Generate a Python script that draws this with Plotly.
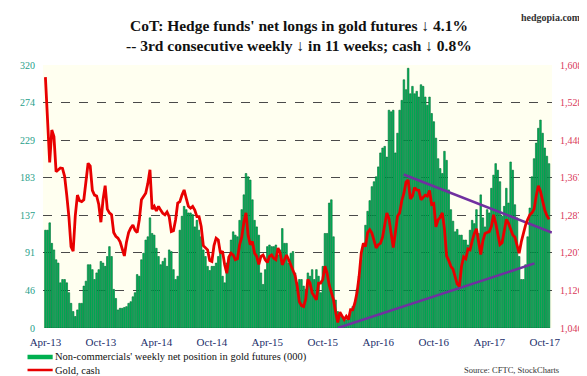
import plotly.graph_objects as go
import pandas as pd

# ---------------- data ----------------
start_date = "2013-04-02"  # weekly CoT Tuesdays

net_longs = [
    119, 119, 128, 103, 95, 83, 79, 55, 59, 59,
    55, 43, 30, 20, 14, 22, 30, 30, 51, 57,
    77, 77, 71, 59, 67, 71, 81, 79, 75, 87,
    99, 87, 47, 36, 22, 24, 24, 25, 26, 30,
    32, 38, 43, 65, 63, 83, 91, 107, 111, 134,
    115, 113, 97, 87, 77, 81, 85, 75, 95, 93,
    71, 59, 63, 119, 136, 148, 144, 140, 140, 138,
    123, 131, 119, 111, 95, 87, 75, 70, 75, 75,
    79, 87, 91, 63, 55, 79, 87, 107, 117, 113,
    111, 131, 144, 162, 188, 184, 180, 156, 131, 123,
    113, 67, 53, 71, 99, 101, 99, 99, 101, 89,
    95, 121, 103, 103, 79, 91, 93, 67, 55, 59,
    59, 51, 47, 67, 63, 71, 59, 71, 63, 43,
    75, 115, 115, 152, 156, 111, 34, 20, 14, 14,
    10, 10, 14, 20, 26, 30, 47, 63, 83, 100,
    125, 142, 155, 172, 178, 184, 196, 213, 219, 221,
    208, 265, 263, 265, 213, 237, 265, 277, 302, 290,
    316, 285, 294, 285, 288, 281, 296, 294, 281, 271,
    281, 261, 251, 231, 206, 194, 188, 215, 204, 168,
    144, 130, 117, 120, 113, 113, 107, 107, 101, 119,
    131, 127, 144, 115, 162, 134, 123, 144, 140, 170,
    186, 200, 192, 178, 136, 148, 170, 152, 202, 192,
    150, 134, 87, 59, 59, 77, 111, 146, 184, 206,
    225, 243, 253, 237, 219, 209, 200,
]

gold_cash = [
    1582, 1490, 1400, 1469, 1455, 1380, 1385, 1388, 1387, 1370,
    1330, 1284, 1220, 1210, 1286, 1330, 1318, 1316, 1320, 1365,
    1398, 1392, 1340, 1330, 1328, 1310, 1272, 1320, 1350, 1300,
    1292, 1288, 1250, 1242, 1238, 1230, 1215, 1200, 1230, 1250,
    1260, 1266, 1255, 1250, 1277, 1320, 1327, 1334, 1355, 1384,
    1300, 1306, 1296, 1306, 1298, 1291, 1288, 1294, 1284, 1252,
    1254, 1277, 1313, 1316, 1330, 1341, 1323, 1306, 1302, 1306,
    1298, 1284, 1284, 1263, 1222, 1217, 1213, 1190, 1188, 1222,
    1238, 1234, 1206, 1210, 1181, 1163, 1198, 1206, 1202, 1192,
    1194, 1224, 1240, 1272, 1292, 1244, 1224, 1231, 1206, 1199,
    1182, 1199, 1202, 1192, 1186, 1199, 1202, 1195, 1192, 1217,
    1206, 1181, 1192, 1202, 1192, 1180, 1168, 1158, 1135, 1102,
    1094, 1092, 1108, 1150, 1142, 1121, 1114, 1106, 1142, 1142,
    1150, 1178, 1163, 1138, 1122, 1106, 1080, 1058, 1080, 1071,
    1064, 1071, 1064, 1085, 1085, 1099, 1121, 1156, 1206, 1227,
    1220, 1250, 1256, 1249, 1230, 1217, 1224, 1227, 1240, 1270,
    1292, 1280, 1250, 1218, 1250, 1285, 1292, 1318, 1334, 1358,
    1362, 1322, 1328, 1346, 1341, 1340, 1320, 1324, 1330, 1328,
    1340, 1310, 1312, 1262, 1277, 1282, 1292, 1258, 1200, 1190,
    1178, 1172, 1158, 1140, 1135, 1178, 1198, 1194, 1215, 1213,
    1232, 1248, 1258, 1228, 1203, 1232, 1248, 1250, 1252, 1263,
    1288, 1270, 1244, 1224, 1228, 1256, 1278, 1270, 1256, 1245,
    1240, 1224, 1206, 1230, 1250, 1266, 1278, 1288, 1292, 1300,
    1328, 1350, 1338, 1318, 1298, 1286, 1278,
]

x_tick_labels = ["Apr-13", "Oct-13", "Apr-14", "Oct-14", "Apr-15",
                 "Oct-15", "Apr-16", "Oct-16", "Apr-17", "Oct-17"]
left_tick_vals = [0, 45.71, 91.43, 137.14, 182.86, 228.57, 274.29, 320]
left_tick_labels = ["0", "46", "91", "137", "183", "229", "274", "320"]
right_tick_vals = [1046, 1126.3, 1206.6, 1286.9, 1367.1, 1447.4, 1527.7, 1608]
right_tick_labels = ["1,046", "1,126", "1,207", "1,287", "1,367", "1,448", "1,528", "1,608"]

# trendlines on the gold axis (week offsets from start, gold level)
upper_trend_weeks = [167.9, 237.3]
upper_trend_gold = [1374, 1250]
lower_trend_weeks = [137.0, 229.2]
lower_trend_gold = [1046, 1184]

# ---------------- figure ----------------
start = pd.Timestamp(start_date)
dates = pd.date_range(start, periods=len(net_longs), freq="7D")
tick_dates = list(dates[::26])


def wk(w):
    return start + pd.to_timedelta(w * 7, unit="D")


W, H = 587, 376
L, R, T, B = 26, 35, 57, 56
PW, PH = W - L - R, H - T - B


def px(x):
    return (x - L) / PW


def py(y):
    return (H - B - y) / PH


SERIF = "Liberation Serif, Times New Roman, serif"

fig = go.Figure()
fig.add_trace(go.Bar(
    x=dates, y=net_longs,
    name="Non-commercials' weekly net position in gold futures (000)",
    marker=dict(color="#00b85a", line=dict(color="#006b35", width=0.6)),
    showlegend=False,
))
fig.add_trace(go.Scatter(
    x=[wk(w) for w in upper_trend_weeks], y=upper_trend_gold, yaxis="y2",
    mode="lines", line=dict(color="#7030a0", width=2.5), showlegend=False,
    hoverinfo="skip",
))
fig.add_trace(go.Scatter(
    x=[wk(w) for w in lower_trend_weeks], y=lower_trend_gold, yaxis="y2",
    mode="lines", line=dict(color="#7030a0", width=2.5), showlegend=False,
    hoverinfo="skip",
))
fig.add_trace(go.Scatter(
    x=dates, y=gold_cash, yaxis="y2", name="Gold, cash",
    mode="lines", line=dict(color="#e80000", width=2.8), showlegend=False,
))

fig.update_layout(
    width=W, height=H,
    margin=dict(l=L, r=R, t=T, b=B),
    paper_bgcolor="white",
    plot_bgcolor="#fffff0",
    bargap=0.25,
    font=dict(family=SERIF, size=10, color="#222"),
    xaxis=dict(
        type="date",
        range=[wk(-1.13), wk(237.4)],
        tickmode="array", tickvals=tick_dates, ticktext=x_tick_labels,
        showgrid=False, zeroline=False, showline=False, ticks="",
        ticklabelstandoff=6,
        tickfont=dict(family=SERIF, size=11, color="#1c2f6b"),
    ),
    yaxis=dict(
        range=[0, 320],
        tickmode="array", tickvals=left_tick_vals, ticktext=left_tick_labels,
        showgrid=True, gridcolor="#4a4a4a", griddash="dash", gridwidth=1,
        zeroline=False, showline=False, ticks="",
        ticklabelstandoff=7,
        tickfont=dict(family=SERIF, size=10, color="#1fa08a"),
    ),
    yaxis2=dict(
        range=[1046, 1608], overlaying="y", side="right",
        tickmode="array", tickvals=right_tick_vals, ticktext=right_tick_labels,
        showgrid=False, zeroline=False, showline=False, ticks="",
        ticklabelstandoff=7,
        tickfont=dict(family=SERIF, size=10, color="#d9385a"),
    ),
)

annotations = [
    dict(text="<b>CoT: Hedge funds' net longs in gold futures ↓ 4.1%</b>",
         x=px(291), y=py(18), xanchor="center", yanchor="middle",
         font=dict(family=SERIF, size=15.5, color="#111")),
    dict(text="<b>-- 3rd consecutive weekly ↓ in 11 weeks; cash ↓ 0.8%</b>",
         x=px(291), y=py(37.5), xanchor="center", yanchor="middle",
         font=dict(family=SERIF, size=15.5, color="#111")),
    dict(text="<b>hedgopia.com</b>", x=px(584), y=py(10),
         xanchor="right", yanchor="middle",
         font=dict(family=SERIF, size=10, color="#333")),
    dict(text="Non-commercials' weekly net position in gold futures (000)",
         x=px(36), y=py(349), xanchor="left", yanchor="middle",
         font=dict(family=SERIF, size=10.5, color="#111")),
    dict(text="Gold, cash", x=px(36), y=py(362), xanchor="left", yanchor="middle",
         font=dict(family=SERIF, size=10.5, color="#111")),
    dict(text="Source: CFTC, StockCharts", x=px(561), y=py(362),
         xanchor="right", yanchor="middle",
         font=dict(family=SERIF, size=8.5, color="#333")),
]
for a in annotations:
    a.update(xref="paper", yref="paper", showarrow=False)
fig.update_layout(annotations=annotations)

fig.update_layout(shapes=[
    dict(type="line", xref="paper", yref="paper",
         x0=px(10), x1=px(36), y0=py(349), y1=py(349),
         line=dict(color="#00b050", width=4.5)),
    dict(type="line", xref="paper", yref="paper",
         x0=px(10), x1=px(36), y0=py(362), y1=py(362),
         line=dict(color="#e80000", width=2.5)),
])

fig.write_html("out.html")
